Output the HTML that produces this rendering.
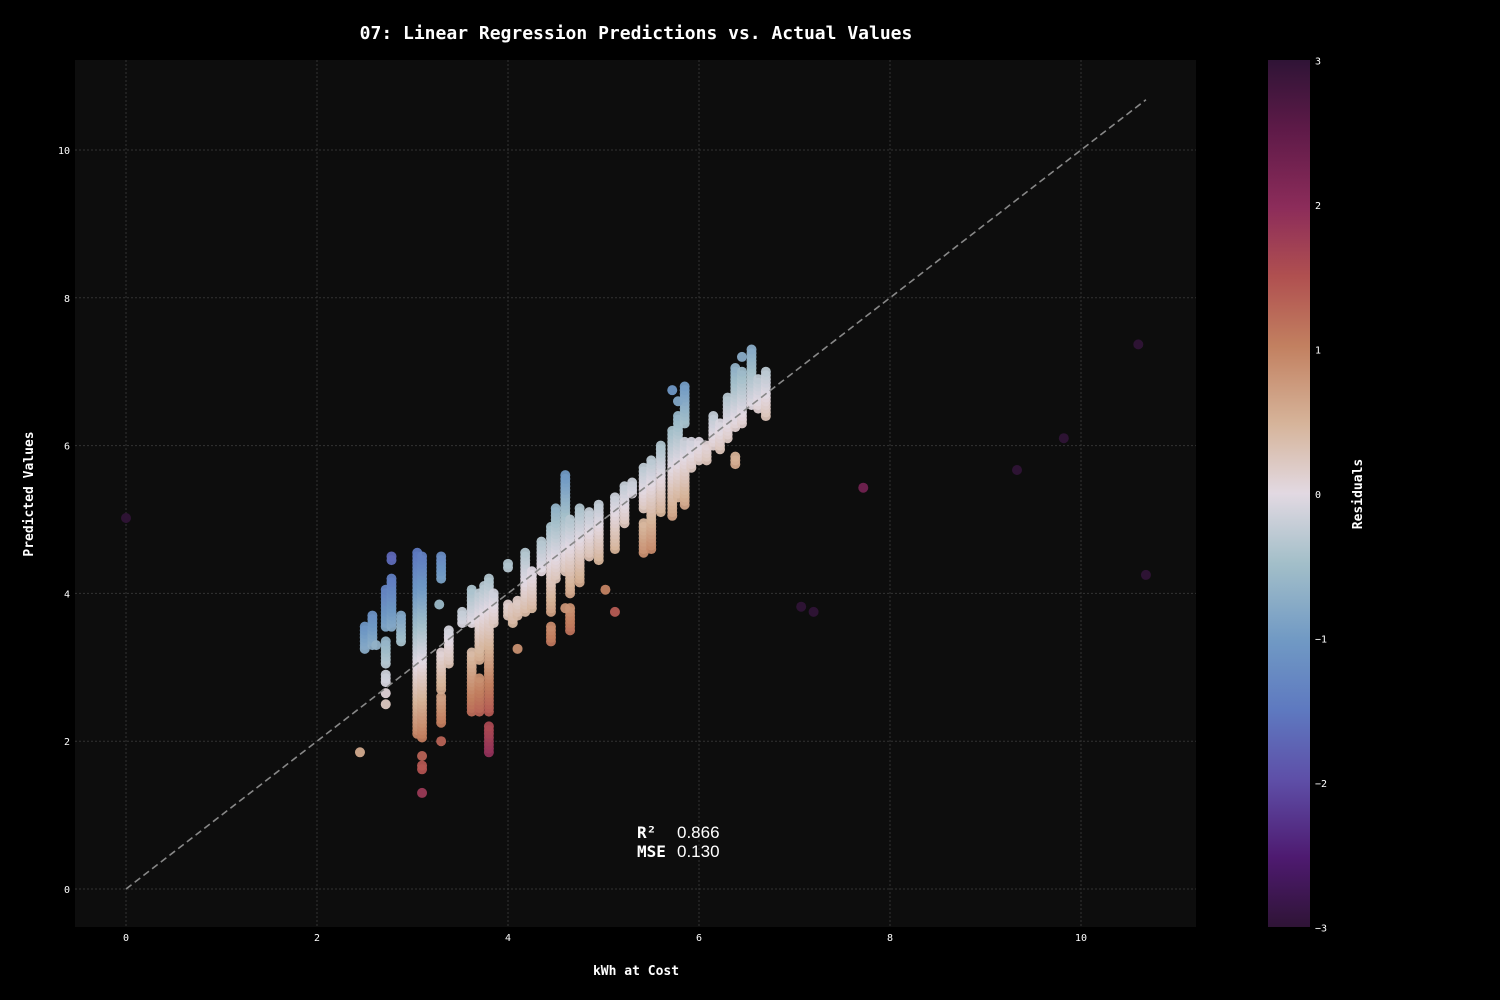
<!DOCTYPE html>
<html><head><meta charset="utf-8"><style>
body{margin:0;background:#000;}
svg{display:block}
text{font-family:"DejaVu Sans Mono","Liberation Mono",monospace;fill:#fff}
</style></head><body>
<svg id="c" width="1500" height="1000">
<defs>
<linearGradient id="cb" x1="0" y1="1" x2="0" y2="0">
<stop offset="0" stop-color="#2f1436"/><stop offset="0.08" stop-color="#4e1a70"/>
<stop offset="0.17" stop-color="#5e4fa8"/><stop offset="0.25" stop-color="#5e79c0"/>
<stop offset="0.33" stop-color="#7099c4"/><stop offset="0.42" stop-color="#a3bfc9"/>
<stop offset="0.5" stop-color="#e2d9e2"/><stop offset="0.58" stop-color="#d6b49a"/>
<stop offset="0.67" stop-color="#c28060"/><stop offset="0.75" stop-color="#b05050"/>
<stop offset="0.83" stop-color="#8c2c5a"/><stop offset="0.92" stop-color="#5e1a48"/>
<stop offset="1" stop-color="#2f1436"/></linearGradient></defs>
<rect x="75" y="60" width="1121" height="867" fill="#0d0d0d"/>
<text x="636" y="39" text-anchor="middle" font-size="18" font-weight="bold">07: Linear Regression Predictions vs. Actual Values</text>
<text x="636" y="975" text-anchor="middle" font-size="13" font-weight="bold">kWh at Cost</text>
<text transform="translate(33,494) rotate(-90)" text-anchor="middle" font-size="13" font-weight="bold">Predicted Values</text>
<g id="grid"></g><g id="marks"></g>
<rect x="1268" y="60" width="42" height="867" fill="url(#cb)"/>
<g id="cbt"></g>
<text transform="translate(1362,494) rotate(-90)" text-anchor="middle" font-size="13" font-weight="bold">Residuals</text>
<text x="637" y="838" font-size="16" font-weight="bold">R²</text>
<text x="677" y="838" font-size="17" style="font-family:'Liberation Sans',sans-serif">0.866</text>
<text x="637" y="857" font-size="16" font-weight="bold">MSE</text>
<text x="677" y="857" font-size="17" style="font-family:'Liberation Sans',sans-serif">0.130</text>
</svg>
<script>
const xTicks=[0,2,4,6,8,10];
const yTicks=[0,2,4,6,8,10];
const cbTicks=[3,2,1,0,-1,-2,-3];
const segX=[2.5,2.58,2.62,2.72,2.72,2.72,2.78,2.78,2.88,3.05,3.1,3.3,3.3,3.3,3.38,3.52,3.62,3.62,3.7,3.7,3.75,3.8,3.8,3.85,4.0,4.0,4.05,4.1,4.18,4.25,4.35,4.45,4.45,4.5,4.6,4.65,4.65,4.75,4.85,4.95,5.12,5.22,5.3,5.42,5.42,5.5,5.6,5.72,5.78,5.85,5.85,5.92,6.0,6.08,6.15,6.22,6.3,6.38,6.38,6.45,6.55,6.62,6.7];
const segLo=[3.25,3.3,3.3,2.8,3.05,3.55,3.55,4.45,3.35,2.1,2.05,2.25,2.7,4.2,3.05,3.6,2.4,3.6,2.4,3.1,3.3,2.4,1.85,3.6,3.7,4.35,3.6,3.7,3.75,3.8,4.3,3.35,3.75,4.2,4.3,3.5,4.0,4.15,4.5,4.45,4.6,4.95,5.35,4.55,5.15,4.6,5.1,5.05,5.3,5.2,6.3,5.7,5.8,5.8,6.0,5.95,6.1,6.25,5.75,6.3,6.55,6.5,6.4];
const segHi=[3.55,3.7,3.3,2.9,3.35,4.05,4.2,4.5,3.7,4.55,4.5,2.6,3.2,4.5,3.5,3.75,3.2,4.05,2.85,4.0,4.1,4.2,2.2,4.0,3.85,4.4,3.8,3.9,4.55,4.3,4.7,3.55,4.9,5.15,5.6,3.8,5.0,5.15,5.1,5.2,5.3,5.45,5.5,4.95,5.7,5.8,6.0,6.2,6.4,6.05,6.8,6.05,6.05,6.0,6.4,6.3,6.65,7.05,5.85,7.0,7.3,6.9,7.0];
const ptX=[0,2.45,2.72,2.72,3.1,3.1,3.1,3.1,3.28,3.3,4.1,4.6,5.02,5.12,5.72,5.78,6.45,7.07,7.2,7.72,9.33,9.82,10.6,10.68];
const ptY=[5.02,1.85,2.5,2.65,1.3,1.62,1.67,1.8,3.85,2.0,3.25,3.8,4.05,3.75,6.75,6.6,7.2,3.82,3.75,5.43,5.67,6.1,7.37,4.25];
const NS="http://www.w3.org/2000/svg";
const sx=v=>126+95.5*v, sy=v=>889-73.9*v;
const stops=[[-3,[47,20,54]],[-2.5,[78,26,112]],[-2,[94,79,168]],[-1.5,[94,121,192]],[-1,[112,153,196]],[-0.5,[163,191,201]],[0,[226,217,226]],[0.5,[214,180,154]],[1,[194,128,96]],[1.5,[176,80,80]],[2,[140,44,90]],[2.5,[94,26,72]],[3,[47,20,54]]];
function col(r){r=Math.max(-3,Math.min(3,r));for(let i=0;i<stops.length-1;i++){const[a,ca]=stops[i],[b,cb]=stops[i+1];if(r<=b){const t=(r-a)/(b-a);return`rgb(${ca.map((c,k)=>Math.round(c+(cb[k]-c)*t)).join(',')})`;}}return'rgb(47,20,54)';}
function mk(t,a,p){const e=document.createElementNS(NS,t);for(const k in a)e.setAttribute(k,a[k]);p.appendChild(e);return e;}
const g=document.getElementById('grid'),m=document.getElementById('marks'),cbt=document.getElementById('cbt');
xTicks.forEach(v=>{
 const l=mk('line',{x1:sx(v),x2:sx(v),y1:60,y2:927,stroke:'#333','stroke-dasharray':'2,2'},g);
 
 
 const t=mk('text',{x:sx(v),y:941,'text-anchor':'middle','font-size':10},g);t.textContent=v;
 
 
});
yTicks.forEach(v=>{
 const l=mk('line',{x1:75,x2:1196,y1:sy(v),y2:sy(v),stroke:'#333','stroke-dasharray':'2,2'},g);
 
 
 const t=mk('text',{x:70,y:sy(v)+4,'text-anchor':'end','font-size':10},g);t.textContent=v;
 
 
});
cbTicks.forEach(v=>{
 const y=494-v*144.5;
 const t=mk('text',{x:1315,y:y+4,'font-size':10},cbt);t.textContent=v<0?'−'+(-v):v;
 
 
});
function dot(x,y){const c=mk('circle',{cx:sx(x),cy:sy(y),r:5,fill:col(x-y),'fill-opacity':0.95},m);
 
 }
segX.forEach((x,i)=>{for(let y=segLo[i];y<=segHi[i]+1e-9;y+=0.05)dot(x,y);});
ptX.forEach((x,i)=>dot(x,ptY[i]));
const d=mk('line',{x1:sx(0),y1:sy(0),x2:sx(10.68),y2:sy(10.68),stroke:'#888','stroke-width':1.6,'stroke-dasharray':'7,4'},m);


</script>
</body></html>
